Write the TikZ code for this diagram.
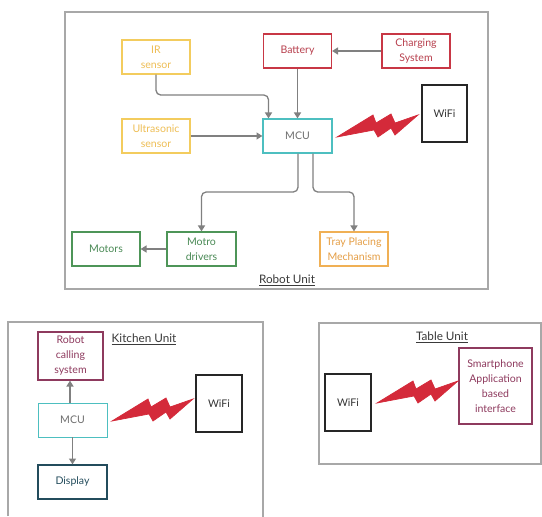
\documentclass[tikz,border=0pt]{standalone}
\usepackage{fontspec}
\setmainfont{Lato}
\usetikzlibrary{arrows.meta}
\definecolor{framegray}{HTML}{A8A8A8}
\definecolor{arrowgray}{HTML}{808080}
\definecolor{sensoryel}{HTML}{F3CC5E}
\definecolor{sensortxt}{HTML}{EEBE55}
\definecolor{trayor}{HTML}{F0B055}
\definecolor{traytxt}{HTML}{E59E45}
\definecolor{batred}{HTML}{C83745}
\definecolor{battxt}{HTML}{B8404E}
\definecolor{motgreen}{HTML}{4E9558}
\definecolor{mottxt}{HTML}{4A8A55}
\definecolor{mcuteal}{HTML}{4DBFC0}
\definecolor{mcutxt}{HTML}{6E6E6E}
\definecolor{maroonb}{HTML}{8E3A5E}
\definecolor{dispblue}{HTML}{234C5C}
\definecolor{boltred}{HTML}{D42A3A}
\definecolor{labeltxt}{HTML}{3A3A3A}
\def\pxu{0.03cm}
\tikzset{
  blk/.style={draw, line width=1.1pt, minimum width=68*\pxu, minimum height=34*\pxu,
    inner sep=1pt, align=center, font=\fontsize{9}{12.8}\selectfont},
  sensorbox/.style={blk, draw=sensoryel, text=sensortxt},
  traybox/.style={blk, draw=trayor, text=traytxt},
  batbox/.style={blk, draw=batred, text=battxt},
  motbox/.style={blk, draw=motgreen, text=mottxt},
  mcubox/.style={blk, draw=mcuteal, text=mcutxt},
  wifibox/.style={blk, draw=black!85, text=black!80, minimum width=45*\pxu, minimum height=57*\pxu},
  maroonbox/.style={blk, draw=maroonb, text=maroonb},
  dispbox/.style={blk, draw=dispblue, text=dispblue},
  unitframe/.style={draw=framegray, line width=0.9pt},
  unitlabel/.style={text=labeltxt, font=\fontsize{10}{12}\selectfont},
  conn/.style={draw=arrowgray, line width=1.1pt, rounded corners=4pt,
    -{Triangle[length=5pt,width=6pt]}},
}
\newcommand\boltshape[1]{\filldraw[boltred,line width=0.6pt,line join=miter,shift={(#1)}] (0,0) -- (36,-22) -- (39,-14) -- (54,-23) -- (58,-14) -- (81,-22) -- (58,-2) -- (54,-9) -- (41,0) -- (37,-7) -- cycle;}
\begin{document}
\begin{tikzpicture}[x=0.03cm,y=-0.03cm]
\useasboundingbox (0,0) rectangle (542,517);
\fill[white] (0,0) rectangle (542,517);
% ---------- Robot unit ----------
\draw[unitframe] (65,12) rectangle (488,289);
\node[sensorbox] (ir) at (156,57) {IR\\sensor};
\node[batbox] (bat) at (297.5,51) {Battery};
\node[batbox] (chg) at (416,51) {Charging\\System};
\node[wifibox] (wifiR) at (444.5,113.5) {WiFi};
\node[sensorbox] (us) at (156,136) {Ultrasonic\\sensor};
\node[mcubox, minimum width=69*\pxu] (mcuR) at (297.5,136) {MCU};
\node[motbox] (mot) at (106,249) {Motors};
\node[motbox, minimum width=69*\pxu] (drv) at (201.5,249) {Motro\\drivers};
\node[traybox] (tray) at (354,249) {Tray Placing\\Mechanism};
\node[unitlabel] (rlabel) at (287,280) {\underline{Robot Unit}};
\boltshape{337,137}
\draw[conn] (ir.south) |- ([xshift=-29*\pxu]mcuR.north |- 0,95) -- ([xshift=-29*\pxu]mcuR.north);
\draw[conn] (bat.south) -- (mcuR.north);
\draw[conn] (chg.west) -- (bat.east);
\draw[conn] (us.east) -- (mcuR.west);
\draw[conn] ([xshift=0.5*\pxu]mcuR.south) |- (drv.north |- 0,192) -- (drv.north);
\draw[conn] ([xshift=15.5*\pxu]mcuR.south) |- (tray.north |- 0,192) -- (tray.north);
\draw[conn] (drv.west) -- (mot.east);
% ---------- Kitchen unit ----------
\draw[unitframe] (8,516) |- (263,322) -- (263,517);
\node[maroonbox, minimum width=65*\pxu, minimum height=48*\pxu] (call) at (70.5,356) {Robot\\calling\\system};
\node[mcubox, line width=0.8pt, minimum width=69*\pxu] (mcuK) at (72.5,420) {MCU};
\node[dispbox, minimum width=69*\pxu] (disp) at (72.5,482) {Display};
\node[wifibox, minimum width=46*\pxu] (wifiK) at (219,403.5) {WiFi};
\node[unitlabel] (klabel) at (144,339) {\underline{Kitchen Unit}};
\boltshape{112,421}
\draw[conn] ([xshift=-2.5*\pxu]mcuK.north) -- ([xshift=-0.5*\pxu]call.south);
\draw[conn] (mcuK.south) -- (disp.north);
% ---------- Table unit ----------
\draw[unitframe] (319,323) rectangle (541,464);
\node[wifibox, minimum width=46*\pxu] (wifiT) at (348,402.5) {WiFi};
\node[maroonbox, minimum width=73*\pxu, minimum height=76*\pxu] (app) at (495.5,386) {Smartphone\\Application\\based\\interface};
\node[unitlabel] (tlabel) at (442,337) {\underline{Table Unit}};
\boltshape{377,403}
\end{tikzpicture}
\end{document}
